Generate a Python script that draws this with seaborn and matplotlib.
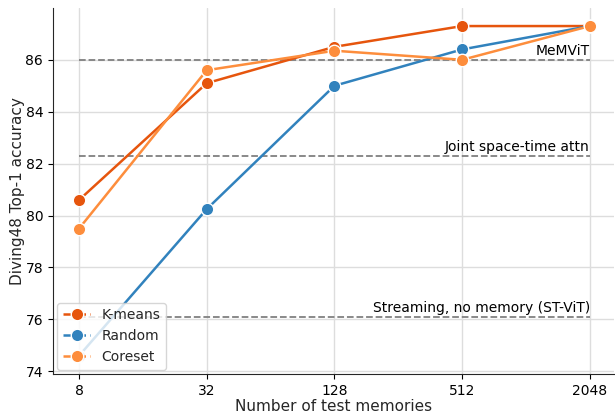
import pandas as pd
import matplotlib
matplotlib.use("Agg")
import matplotlib.pyplot as plt
import seaborn as sns
from matplotlib.lines import Line2D

# data
memories = [8, 32, 128, 512, 2048]
kmeans = [80.6, 85.1, 86.5, 87.3, 87.3]
random_ = [74.6, 80.25, 85.0, 86.4, 87.3]
coreset = [79.5, 85.6, 86.35, 86.0, 87.3]
methods = ["K-means", "Random", "Coreset"]
colors = ["#e6550d", "#3182bd", "#fd8d3c"]

baselines = ["MeMViT", "Joint space-time attn", "Streaming, no memory (ST-ViT)"]
baseline_vals = [86.0, 82.3, 76.1]

df = pd.DataFrame({
    "memories": memories * 3,
    "acc": kmeans + random_ + coreset,
    "method": [m for m in methods for _ in memories],
})

sns.set_style("ticks")
fig = plt.figure(figsize=(6.15, 4.15), dpi=100)
ax = fig.add_axes([0.086, 0.099, 0.912, 0.882])

ax.set_xscale("log", base=2)
ax.grid(True, color="#dddddd", linewidth=1)
ax.set_axisbelow(True)

# baselines
for name, v in zip(baselines, baseline_vals):
    ax.plot([memories[0], memories[-1]], [v, v], linestyle="--", color="gray", linewidth=1.3, zorder=1)
    ax.text(memories[-1], v + 0.08, name, ha="right", va="bottom", fontsize=10, color="black")

sns.lineplot(data=df, x="memories", y="acc", hue="method", palette=colors,
             marker="o", markersize=9, markeredgecolor="white", markeredgewidth=1,
             linewidth=1.8, ax=ax, legend=False, zorder=3)

ax.set_xticks(memories)
ax.set_xticklabels([str(m) for m in memories])
ax.minorticks_off()
ax.set_xlim(2 ** 2.59, 2 ** 11.375)
ax.set_ylim(73.9, 88.0)
ax.set_yticks([74, 76, 78, 80, 82, 84, 86])
ax.tick_params(labelsize=10, colors="black")
ax.set_xlabel("Number of test memories", fontsize=11, labelpad=1)
ax.set_ylabel("Diving48 Top-1 accuracy", fontsize=11, labelpad=0)
sns.despine(ax=ax)

handles = [Line2D([0], [0], color=c, linestyle="--", linewidth=1.8, marker="o", markersize=9,
                  markeredgecolor="white") for c in colors]
ax.legend(handles, methods, loc="lower left", fontsize=10, borderaxespad=0.3)

fig.savefig("out.png", dpi=100)
